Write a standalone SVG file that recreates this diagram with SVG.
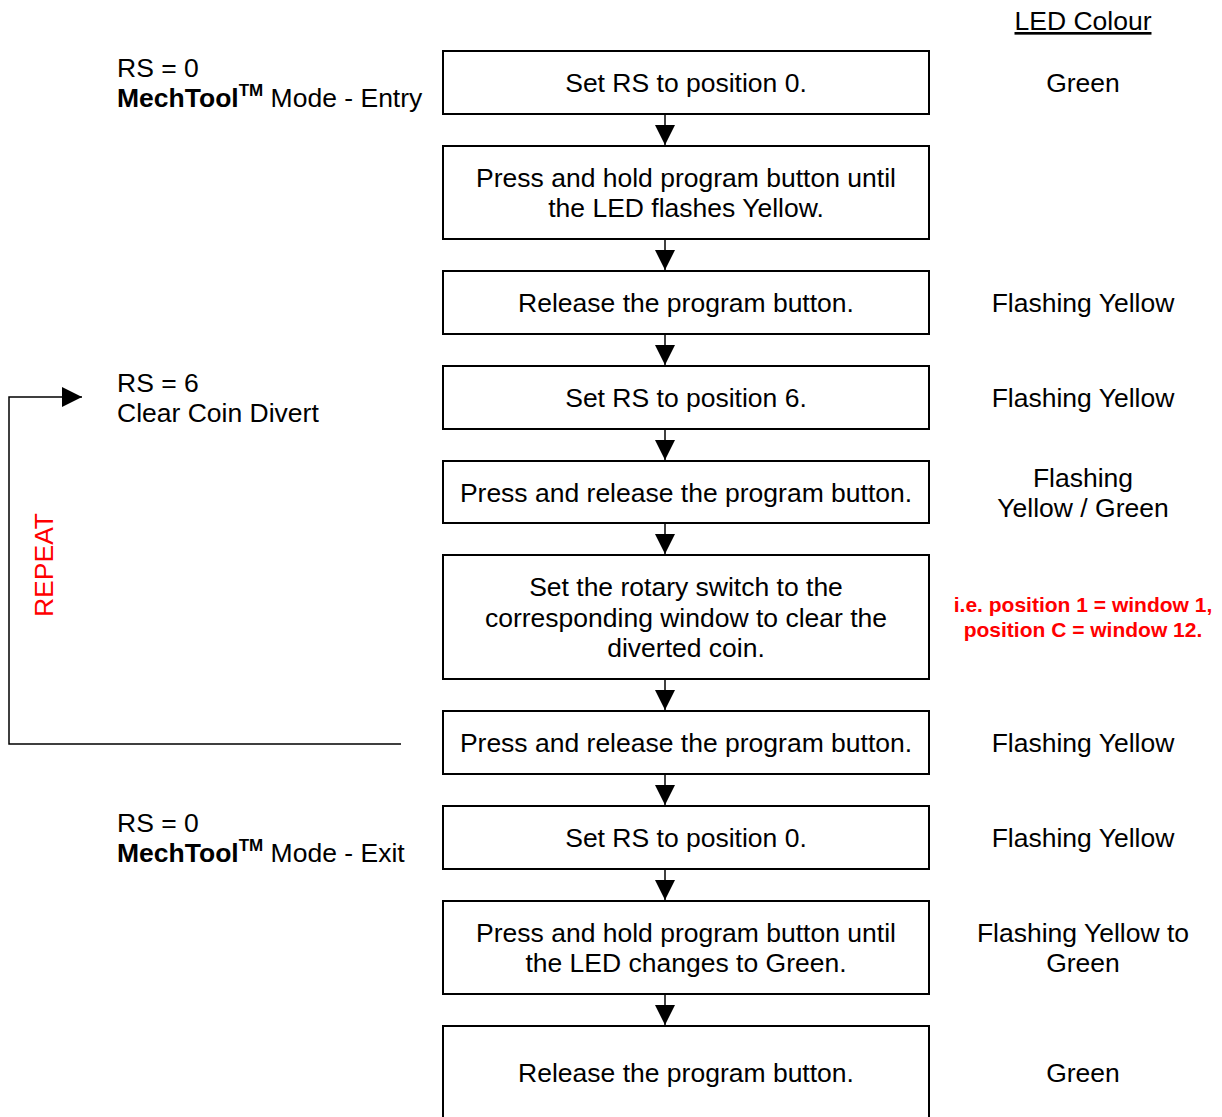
<svg xmlns="http://www.w3.org/2000/svg" width="1222" height="1117" viewBox="0 0 1222 1117">
<style>
.box{fill:#fff;stroke:#000;stroke-width:2}
text{font-family:"Liberation Sans",Arial,sans-serif;font-size:26.5px;fill:#000}
.c{text-anchor:middle}
.red{fill:#ff0000;font-weight:bold;font-size:21px}
.conn{stroke:#000;stroke-width:1.5;fill:none}
</style>
<defs>
<marker id="ah" markerWidth="20" markerHeight="20" refX="20" refY="10" orient="auto" markerUnits="userSpaceOnUse">
<path d="M0,0 L20,10 L0,20 Z" fill="#000"/>
</marker>
</defs>
<rect width="1222" height="1117" fill="#fff"/>
<text x="1083" y="30" class="c" text-decoration="underline">LED Colour</text>

<g id="connectors">
<line class="conn" x1="665" y1="115" x2="665" y2="145" marker-end="url(#ah)"/>
<line class="conn" x1="665" y1="240" x2="665" y2="270" marker-end="url(#ah)"/>
<line class="conn" x1="665" y1="335" x2="665" y2="365" marker-end="url(#ah)"/>
<line class="conn" x1="665" y1="430" x2="665" y2="460" marker-end="url(#ah)"/>
<line class="conn" x1="665" y1="524" x2="665" y2="554" marker-end="url(#ah)"/>
<line class="conn" x1="665" y1="680" x2="665" y2="710" marker-end="url(#ah)"/>
<line class="conn" x1="665" y1="775" x2="665" y2="805" marker-end="url(#ah)"/>
<line class="conn" x1="665" y1="870" x2="665" y2="900" marker-end="url(#ah)"/>
<line class="conn" x1="665" y1="995" x2="665" y2="1025" marker-end="url(#ah)"/>
<polyline class="conn" points="401,744 9,744 9,397 82,397" marker-end="url(#ah)"/>
</g>

<g id="n1"><rect class="box" x="443" y="51" width="486" height="63"/><text x="686" y="92" class="c">Set RS to position 0.</text></g>
<g id="n2"><rect class="box" x="443" y="146" width="486" height="93"/><text x="686" y="187" class="c">Press and hold program button until</text><text x="686" y="217" class="c">the LED flashes Yellow.</text></g>
<g id="n3"><rect class="box" x="443" y="271" width="486" height="63"/><text x="686" y="312" class="c">Release the program button.</text></g>
<g id="n4"><rect class="box" x="443" y="366" width="486" height="63"/><text x="686" y="407" class="c">Set RS to position 6.</text></g>
<g id="n5"><rect class="box" x="443" y="461" width="486" height="62"/><text x="686" y="502" class="c">Press and release the program button.</text></g>
<g id="n6"><rect class="box" x="443" y="555" width="486" height="124"/><text x="686" y="596" class="c">Set the rotary switch to the</text><text x="686" y="627" class="c">corresponding window to clear the</text><text x="686" y="657" class="c">diverted coin.</text></g>
<g id="n7"><rect class="box" x="443" y="711" width="486" height="63"/><text x="686" y="752" class="c">Press and release the program button.</text></g>
<g id="n8"><rect class="box" x="443" y="806" width="486" height="63"/><text x="686" y="847" class="c">Set RS to position 0.</text></g>
<g id="n9"><rect class="box" x="443" y="901" width="486" height="93"/><text x="686" y="942" class="c">Press and hold program button until</text><text x="686" y="972" class="c">the LED changes to Green.</text></g>
<g id="n10"><rect class="box" x="443" y="1026" width="486" height="100"/><text x="686" y="1082" class="c">Release the program button.</text></g>

<g id="led">
<text x="1083" y="92" class="c">Green</text>
<text x="1083" y="312" class="c">Flashing Yellow</text>
<text x="1083" y="407" class="c">Flashing Yellow</text>
<text x="1083" y="487" class="c">Flashing</text>
<text x="1083" y="517" class="c">Yellow / Green</text>
<text x="1083" y="612" class="c red">i.e. position 1 = window 1,</text>
<text x="1083" y="637" class="c red">position C = window 12.</text>
<text x="1083" y="752" class="c">Flashing Yellow</text>
<text x="1083" y="847" class="c">Flashing Yellow</text>
<text x="1083" y="942" class="c">Flashing Yellow to</text>
<text x="1083" y="972" class="c">Green</text>
<text x="1083" y="1082" class="c">Green</text>
</g>

<g id="left">
<text x="117" y="77">RS = 0</text>
<text x="117" y="107"><tspan font-weight="bold">MechTool</tspan><tspan font-weight="bold" font-size="17" dy="-11">TM</tspan><tspan dy="11"> Mode - Entry</tspan></text>
<text x="117" y="392">RS = 6</text>
<text x="117" y="422">Clear Coin Divert</text>
<text x="117" y="832">RS = 0</text>
<text x="117" y="862"><tspan font-weight="bold">MechTool</tspan><tspan font-weight="bold" font-size="17" dy="-11">TM</tspan><tspan dy="11"> Mode - Exit</tspan></text>
<text x="0" y="0" transform="translate(53,565) rotate(-90)" class="c" style="fill:#ff0000">REPEAT</text>
</g>
</svg>
